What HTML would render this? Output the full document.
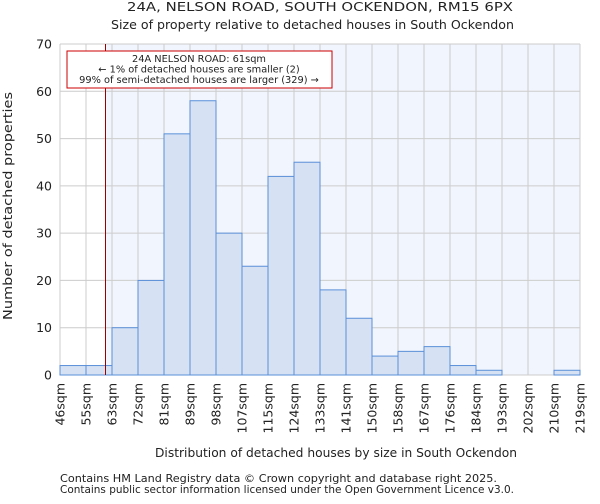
<!DOCTYPE html>
<html><head><meta charset="utf-8"><style>
body{margin:0;background:#fff;font-family:"DejaVu Sans","Liberation Sans",sans-serif;}
svg text{font-family:"DejaVu Sans","Liberation Sans",sans-serif;fill:#222;}
</style></head><body>
<svg id="c" width="600" height="500" xmlns="http://www.w3.org/2000/svg">
<text x="127" y="11" font-size="12.5" textLength="386" lengthAdjust="spacingAndGlyphs">24A, NELSON ROAD, SOUTH OCKENDON, RM15 6PX</text>
<text x="111" y="29" font-size="12.5" textLength="403" lengthAdjust="spacingAndGlyphs">Size of property relative to detached houses in South Ockendon</text>
<g id="plot"></g>
<text x="155" y="457" font-size="12.5" textLength="362" lengthAdjust="spacingAndGlyphs">Distribution of detached houses by size in South Ockendon</text>
<text transform="translate(12,320) rotate(-90)" font-size="12.5" textLength="228" lengthAdjust="spacingAndGlyphs">Number of detached properties</text>
<text x="60" y="482" font-size="10.5" textLength="437" lengthAdjust="spacingAndGlyphs">Contains HM Land Registry data © Crown copyright and database right 2025.</text>
<text x="60" y="493" font-size="10.5" textLength="454" lengthAdjust="spacingAndGlyphs">Contains public sector information licensed under the Open Government Licence v3.0.</text>
</svg>
<script>
const categories=["46sqm","55sqm","63sqm","72sqm","81sqm","89sqm","98sqm","107sqm","115sqm","124sqm","133sqm","141sqm","150sqm","158sqm","167sqm","176sqm","184sqm","193sqm","202sqm","210sqm","219sqm"];
const edges=[46,55,63,72,81,89,98,107,115,124,133,141,150,158,167,176,184,193,202,210,219];
const counts=[2,2,10,20,51,58,30,23,42,45,18,12,4,5,6,2,1,0,0,1];
const yTicks=[0,10,20,30,40,50,60,70];
const markerValue=61;
const annotationLines=["24A NELSON ROAD: 61sqm","← 1% of detached houses are smaller (2)","99% of semi-detached houses are larger (329) →"];
const L=60,R=580,T=44,B=375,yMax=70;
const ns="http://www.w3.org/2000/svg";
const g=document.getElementById('plot');
const bw=(R-L)/counts.length;
const xi=i=>L+i*bw;
const y=v=>B-(v/yMax)*(B-T);
function xv(v){for(let i=0;i<edges.length-1;i++){if(v<=edges[i+1])return xi(i)+(v-edges[i])/(edges[i+1]-edges[i])*bw;}return R;}
function el(t,a,p){const e=document.createElementNS(ns,t);for(const k in a)e.setAttribute(k,a[k]);(p||g).appendChild(e);return e;}
const mx=xv(markerValue);
let r=el('rect',{x:L,y:T,width:R-L,height:B-T,fill:'#fff'});

r=el('rect',{x:mx,y:T,width:R-mx,height:B-T,fill:'#f1f5fd'});

for(let i=0;i<=counts.length;i++){const l=el('line',{x1:xi(i),x2:xi(i),y1:T,y2:B,stroke:'#cccccc','stroke-width':1});
}
yTicks.forEach(v=>{const l=el('line',{x1:L,x2:R,y1:y(v),y2:y(v),stroke:'#cccccc','stroke-width':1});

const t=el('text',{x:L-8,y:y(v)+4.5,'font-size':12.5,'text-anchor':'end'});t.textContent=v;
});
counts.forEach((c,i)=>{if(c<=0)return;const b=el('rect',{x:xi(i),y:y(c),width:bw,height:B-y(c),fill:'#d6e2f4',stroke:'#5a8fd8','stroke-width':1});
});
categories.forEach((c,i)=>{const t=el('text',{transform:`translate(${xi(i)+4.5},${B+8}) rotate(-90)`,'font-size':12.5,'text-anchor':'end'});t.textContent=c;
});
const ml=el('line',{x1:mx,x2:mx,y1:T,y2:B,stroke:'#990000','stroke-width':1});

const box=el('rect',{x:67,y:51,width:265,height:37,fill:'#fff',stroke:'#cc0000','stroke-width':1});

annotationLines.forEach((s,i)=>{const t=el('text',{x:199,y:62+i*10.5,'font-size':9.8,'text-anchor':'middle'});t.textContent=s;
});
</script>
</body></html>
